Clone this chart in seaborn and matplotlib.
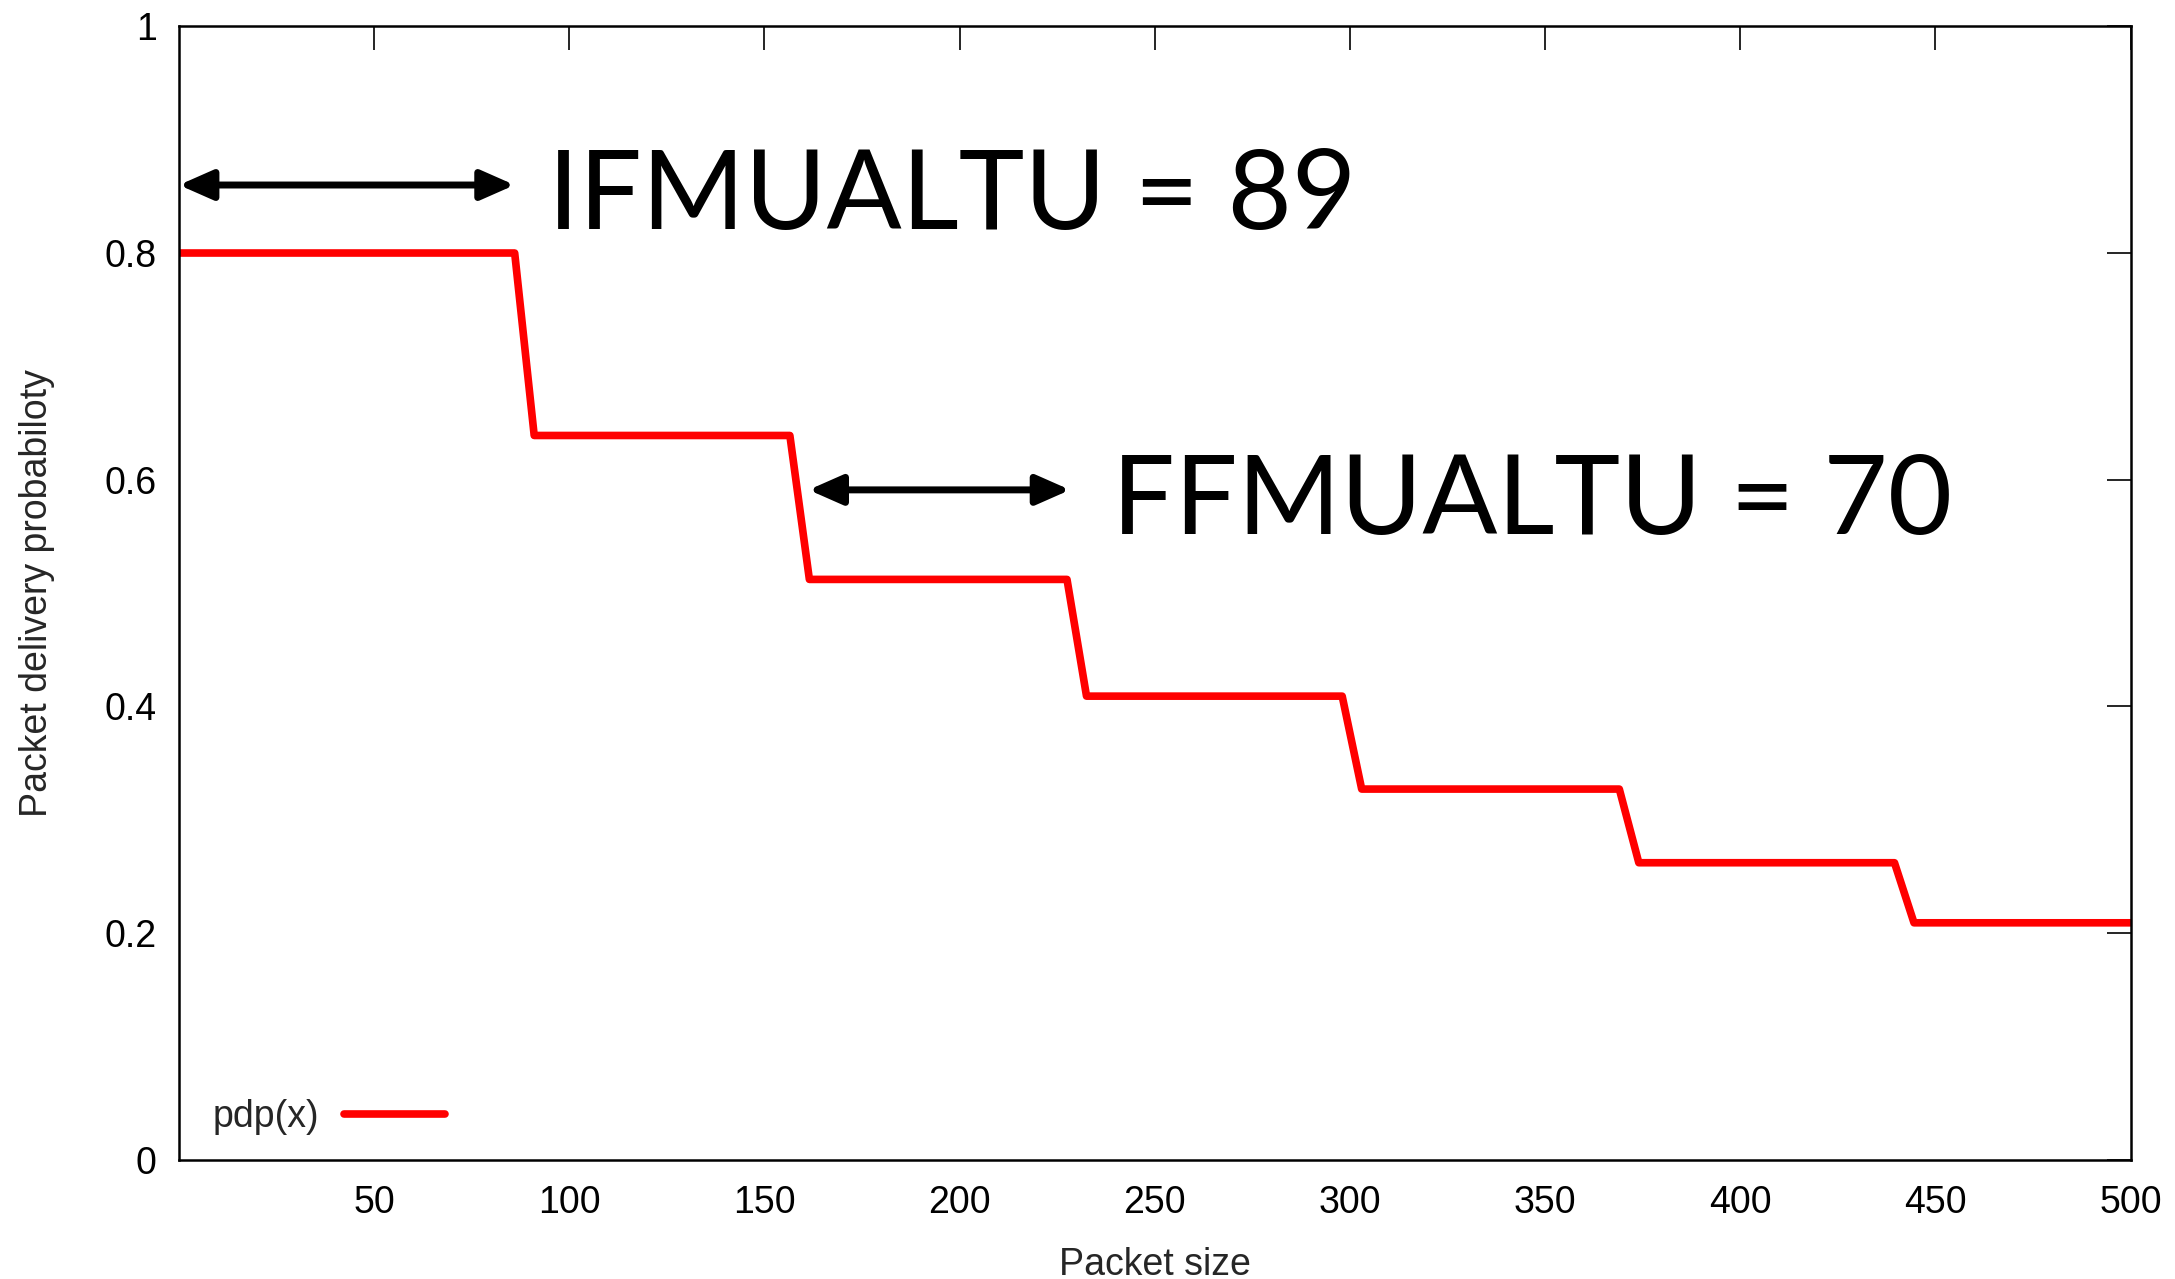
import matplotlib
matplotlib.use("Agg")
import matplotlib.pyplot as plt
import seaborn as sns
import pandas as pd

# data
packet_size = [0, 86, 91, 156.5, 161.5, 227.5, 232.5, 298, 303, 369, 374, 439.5, 444.5, 500]
pdp = [0.8, 0.8, 0.639, 0.639, 0.512, 0.512, 0.409, 0.409, 0.327, 0.327, 0.262, 0.262, 0.209, 0.209]
x_ticks = [50, 100, 150, 200, 250, 300, 350, 400, 450, 500]
y_ticks = [0, 0.2, 0.4, 0.6, 0.8, 1]
y_tick_labels = ["0", "0.2", "0.4", "0.6", "0.8", "1"]
arrow1 = (0, 86, 0.86)
arrow2 = (161.3, 228.3, 0.591)
label1 = "IFMUALTU = 89"
label2 = "FFMUALTU = 70"

sns.set_theme(style="white")
plt.rcParams['font.family'] = ['Liberation Sans', 'DejaVu Sans']

df = pd.DataFrame({"x": packet_size, "y": pdp})

fig = plt.figure(figsize=(21.75, 12.79), dpi=100)
ax = fig.add_axes([0.0823, 0.0933, 0.8973, 0.8861])

sns.lineplot(data=df, x="x", y="y", ax=ax, color="#ff0000", linewidth=5.5,
             sort=False, estimator=None, label="pdp(x)")

ax.set_xlim(0, 500)
ax.set_ylim(0, 1)
ax.set_xticks(x_ticks)
ax.set_xticklabels([str(t) for t in x_ticks])
ax.set_yticks(y_ticks)
ax.set_yticklabels(y_tick_labels)
ax.tick_params(axis="both", which="major", direction="in", length=17, width=1.2,
               top=True, right=True, labelsize=27, colors="black")
ax.tick_params(axis="x", pad=18)
ax.tick_params(axis="y", pad=16)
for s in ax.spines.values():
    s.set_color("black")
    s.set_linewidth(1.8)

ax.set_xlabel("Packet size", fontsize=27, labelpad=19)
ax.set_ylabel("Packet delivery probabiloty", fontsize=27, labelpad=36)

leg = ax.legend(loc="lower left", frameon=False, markerfirst=False, fontsize=27,
                handlelength=2.7, handletextpad=0.65, bbox_to_anchor=(0.0, -0.008))

for (x0, x1, yy) in (arrow1, arrow2):
    ax.annotate("", xy=(x1, yy), xytext=(x0, yy),
                arrowprops=dict(arrowstyle="<|-|>,head_length=1.7,head_width=0.75",
                                color="black", lw=5, shrinkA=0, shrinkB=0))

ax.text(94.5, 0.821, label1, fontsize=80, family=["Lato", "DejaVu Sans"],
        ha="left", va="baseline", color="black")
ax.text(239, 0.552, label2, fontsize=80, family=["Lato", "DejaVu Sans"],
        ha="left", va="baseline", color="black")

fig.savefig("out.png", dpi=100)
